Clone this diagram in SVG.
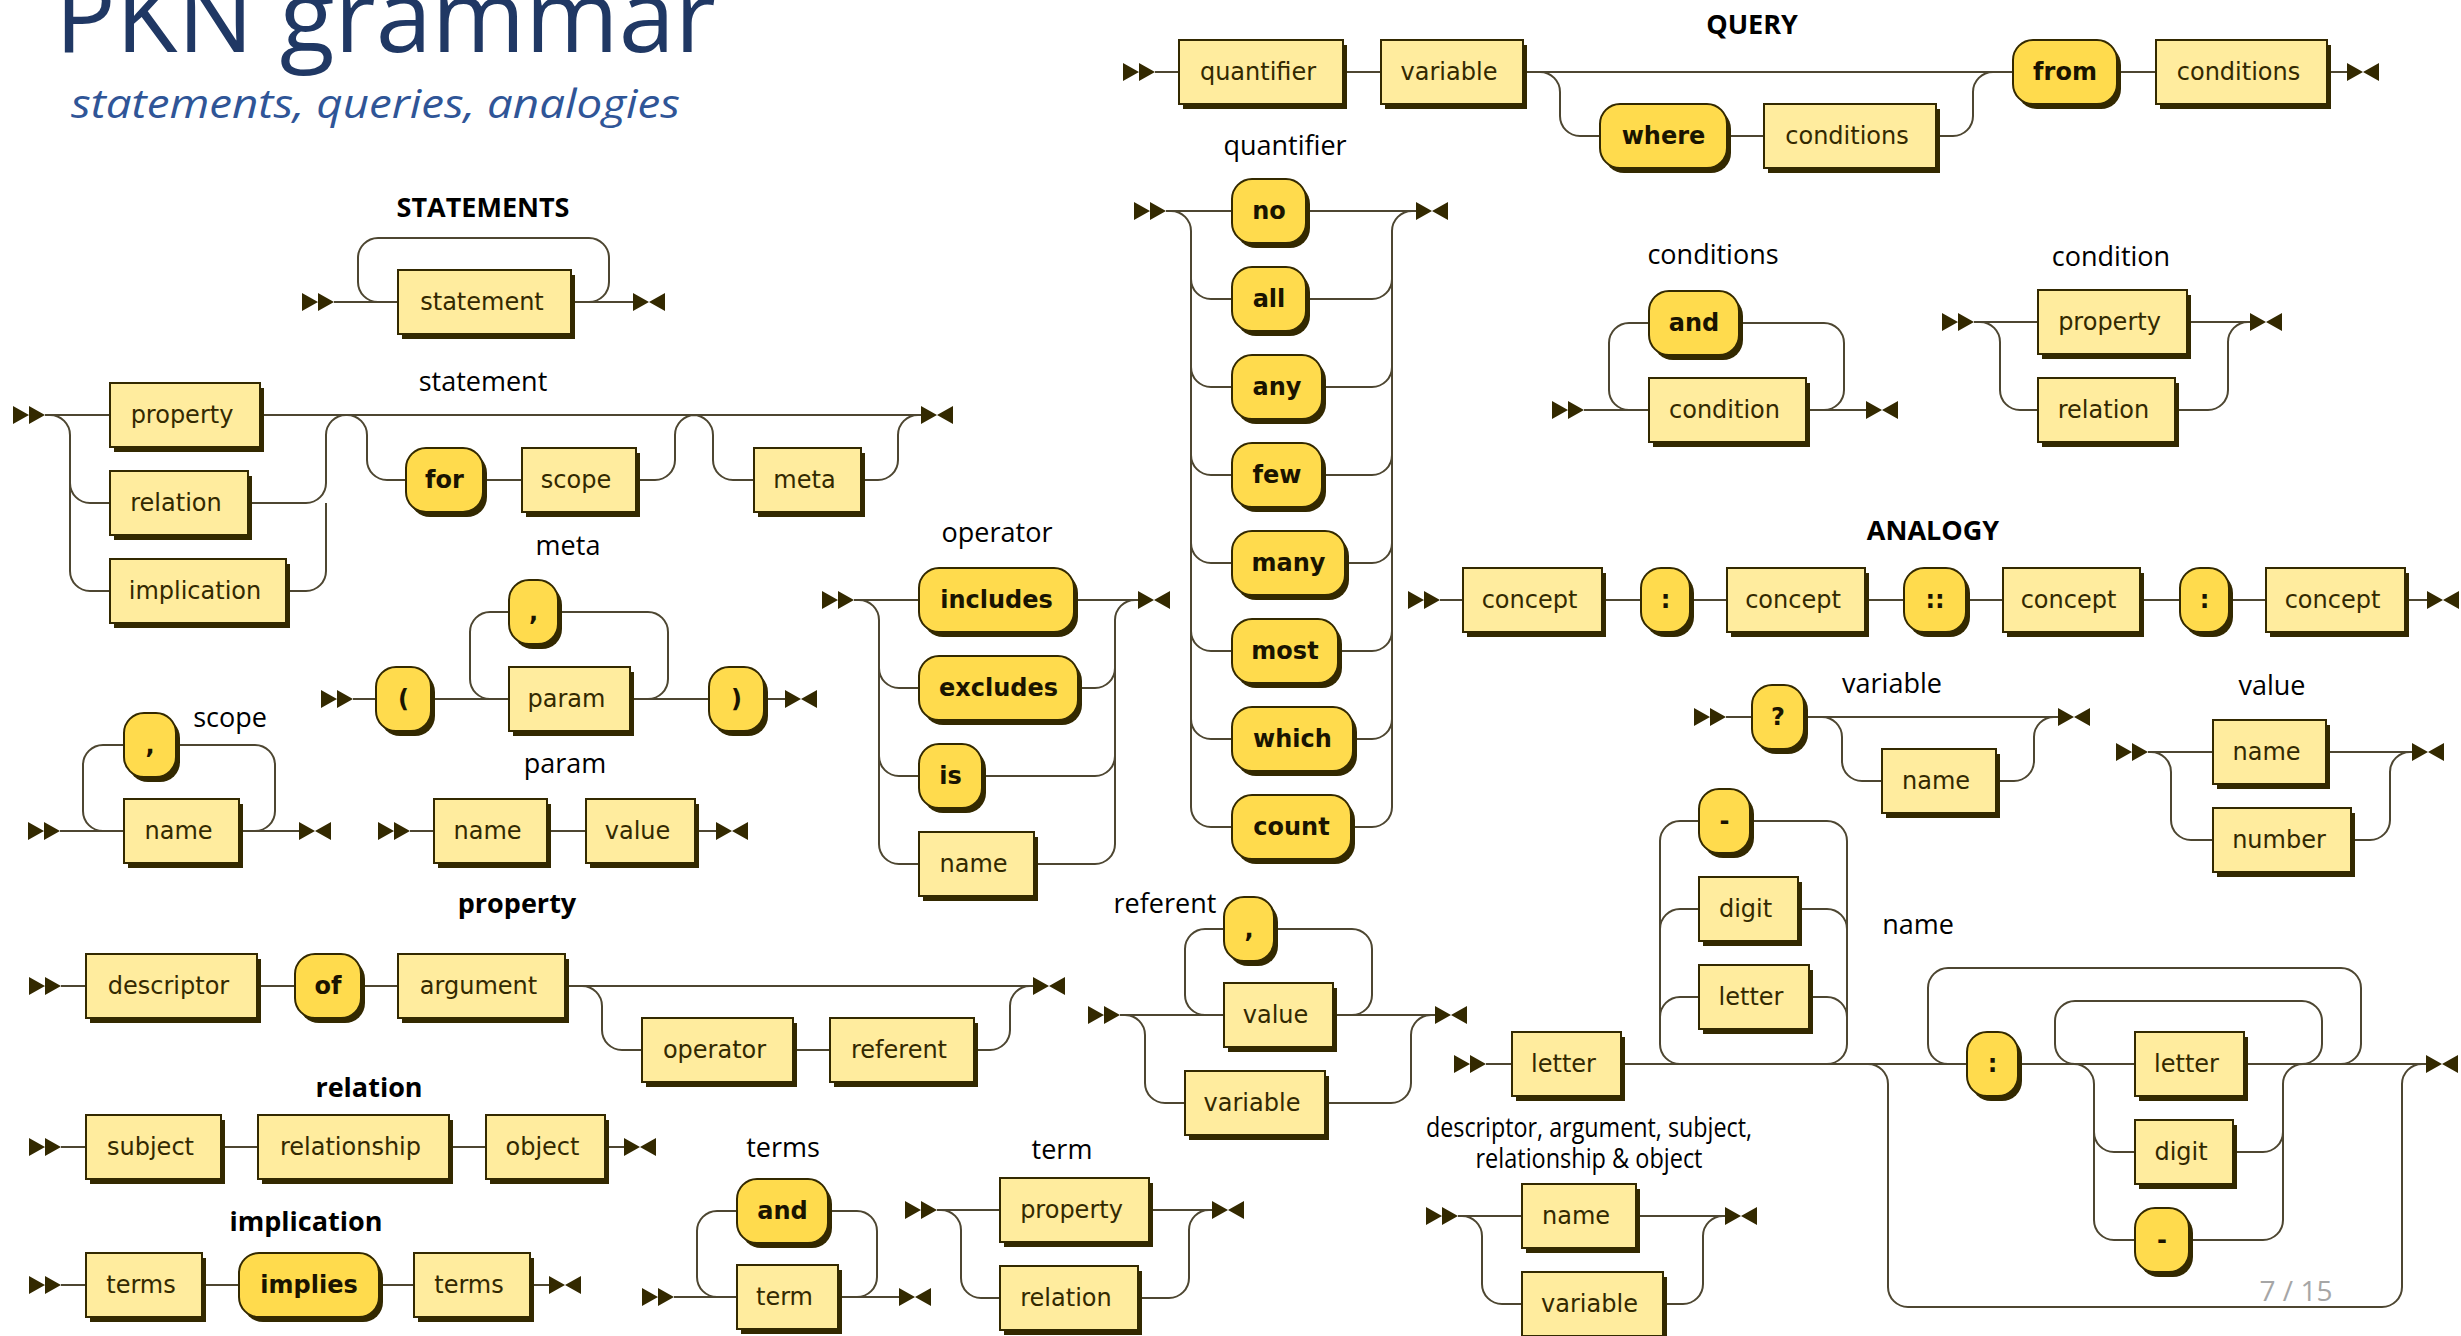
<svg xmlns="http://www.w3.org/2000/svg" xmlns:xlink="http://www.w3.org/1999/xlink" width="2461" height="1336" viewBox="0 0 2461 1336">
<style>
.sh{fill:#332900}
.nt .bx{fill:#FFEC9E;stroke:#332900;stroke-width:2}
.t .bx{fill:#FFDB4D;stroke:#332900;stroke-width:2}
.nt text,.t text{font-family:"DejaVu Sans",Verdana,sans-serif;font-size:24px;fill:#332900;text-anchor:middle}
.t text{font-weight:bold;fill:#1a1400}
.ln path{fill:none;stroke:#4D4631;stroke-width:2}
.ln use{fill:#332900}
.lb{font-family:"Open Sans",sans-serif;font-size:27px;fill:#000;text-anchor:middle}
.bd{font-weight:bold}
</style>
<defs>
<path id="st" d="M0,-9L16,0L0,9ZM16,-9L32,0L16,9Z"/>
<path id="en" d="M0,-9L16,0L0,9ZM32,-9L16,0L32,9Z"/>
</defs>
<rect width="2461" height="1336" fill="#fff"/>
<g id="title">
<text x="55" y="52" font-family="'Open Sans',sans-serif" font-size="101" fill="#203864" textLength="661" lengthAdjust="spacingAndGlyphs">PKN grammar</text>
<text x="71" y="118" font-family="'Open Sans',sans-serif" font-size="41" font-style="italic" fill="#2F5597" textLength="609" lengthAdjust="spacingAndGlyphs">statements, queries, analogies</text>
<text x="2296" y="1301" font-family="'Open Sans',sans-serif" font-size="28" fill="#A6A6A6" text-anchor="middle">7 / 15</text>
</g>
<g id="labels">
<text class="lb bd" x="483" y="217">STATEMENTS</text>
<text class="lb" x="483" y="391">statement</text>
<text class="lb" x="568" y="555">meta</text>
<text class="lb" x="230" y="727">scope</text>
<text class="lb" x="565" y="773">param</text>
<text class="lb bd" x="517" y="913">property</text>
<text class="lb bd" x="369" y="1097">relation</text>
<text class="lb bd" x="306" y="1231">implication</text>
<text class="lb" x="783" y="1157">terms</text>
<text class="lb" x="1062" y="1159">term</text>
<text class="lb" x="997" y="542">operator</text>
<text class="lb" x="1285" y="155">quantifier</text>
<text class="lb bd" x="1752" y="34">QUERY</text>
<text class="lb" x="1713" y="264">conditions</text>
<text class="lb" x="2111" y="266">condition</text>
<text class="lb bd" x="1933" y="540">ANALOGY</text>
<text class="lb" x="1892" y="693">variable</text>
<text class="lb" x="2272" y="695">value</text>
<text class="lb" x="1918" y="934">name</text>
<text class="lb" x="1165" y="913">referent</text>
<text class="lb" x="1589" y="1137" font-size="22" textLength="326" lengthAdjust="spacingAndGlyphs">descriptor, argument, subject,</text>
<text class="lb" x="1589" y="1168" font-size="22" textLength="227" lengthAdjust="spacingAndGlyphs">relationship &amp; object</text>
</g>
<g id="connectors" class="ln">
<path d="M334,302H398M571,302H633M589,302a20,20 0 0 0 20,-20V258a20,20 0 0 0 -20,-20H378a20,20 0 0 0 -20,20V282a20,20 0 0 0 20,20"/>
<use href="#st" x="302" y="302"/><use href="#en" x="633" y="302"/>
<path d="M45,415H110M260,415H921M50,415a20,20 0 0 1 20,20V571a20,20 0 0 0 20,20H110M70,483a20,20 0 0 0 20,20H110M248,503H306a20,20 0 0 0 20,-20V435a20,20 0 0 1 20,-20M286,591H306a20,20 0 0 0 20,-20V503M347,415a20,20 0 0 1 20,20V460a20,20 0 0 0 20,20H406M483,480H522M636,480H655a20,20 0 0 0 20,-20V435a20,20 0 0 1 20,-20M693,415a20,20 0 0 1 20,20V460a20,20 0 0 0 20,20H754M861,480H878a20,20 0 0 0 20,-20V435a20,20 0 0 1 20,-20"/>
<use href="#st" x="13" y="415"/><use href="#en" x="921" y="415"/>
<path d="M353,699H376M431,699H509M630,699H709M764,699H785M648,699a20,20 0 0 0 20,-20V632a20,20 0 0 0 -20,-20H558M509,612H490a20,20 0 0 0 -20,20V679a20,20 0 0 0 20,20"/>
<use href="#st" x="321" y="699"/><use href="#en" x="785" y="699"/>
<path d="M60,831H124M239,831H299M255,831a20,20 0 0 0 20,-20V765a20,20 0 0 0 -20,-20H176M124,745H103a20,20 0 0 0 -20,20V811a20,20 0 0 0 20,20"/>
<use href="#st" x="28" y="831"/><use href="#en" x="299" y="831"/>
<path d="M410,831H434M547,831H586M695,831H716"/>
<use href="#st" x="378" y="831"/><use href="#en" x="716" y="831"/>
<path d="M61,986H86M257,986H295M361,986H398M565,986H1033M582,986a20,20 0 0 1 20,20V1030a20,20 0 0 0 20,20H642M793,1050H830M974,1050H990a20,20 0 0 0 20,-20V1006a20,20 0 0 1 20,-20"/>
<use href="#st" x="29" y="986"/><use href="#en" x="1033" y="986"/>
<path d="M61,1147H86M221,1147H258M449,1147H486M605,1147H624"/>
<use href="#st" x="29" y="1147"/><use href="#en" x="624" y="1147"/>
<path d="M61,1285H86M202,1285H239M379,1285H414M530,1285H549"/>
<use href="#st" x="29" y="1285"/><use href="#en" x="549" y="1285"/>
<path d="M674,1297H737M838,1297H899M857,1297a20,20 0 0 0 20,-20V1231a20,20 0 0 0 -20,-20H828M737,1211H717a20,20 0 0 0 -20,20V1277a20,20 0 0 0 20,20"/>
<use href="#st" x="642" y="1297"/><use href="#en" x="899" y="1297"/>
<path d="M937,1210H1000M1149,1210H1212M941,1210a20,20 0 0 1 20,20V1278a20,20 0 0 0 20,20H1000M1138,1298H1169a20,20 0 0 0 20,-20V1230a20,20 0 0 1 20,-20"/>
<use href="#st" x="905" y="1210"/><use href="#en" x="1212" y="1210"/>
<path d="M854,600H919M1074,600H1138M859,600a20,20 0 0 1 20,20V844a20,20 0 0 0 20,20H919M879,668a20,20 0 0 0 20,20H919M879,756a20,20 0 0 0 20,20H919M1034,864H1095a20,20 0 0 0 20,-20V620a20,20 0 0 1 20,-20M1078,688H1095a20,20 0 0 0 20,-20M982,776H1095a20,20 0 0 0 20,-20"/>
<use href="#st" x="822" y="600"/><use href="#en" x="1138" y="600"/>
<path d="M1166,211H1232M1306,211H1416M1171,211a20,20 0 0 1 20,20V807a20,20 0 0 0 20,20H1232M1191,279a20,20 0 0 0 20,20H1232M1191,367a20,20 0 0 0 20,20H1232M1191,455a20,20 0 0 0 20,20H1232M1191,543a20,20 0 0 0 20,20H1232M1191,631a20,20 0 0 0 20,20H1232M1191,719a20,20 0 0 0 20,20H1232M1351,827H1372a20,20 0 0 0 20,-20V231a20,20 0 0 1 20,-20M1306,299H1372a20,20 0 0 0 20,-20M1322,387H1372a20,20 0 0 0 20,-20M1322,475H1372a20,20 0 0 0 20,-20M1345,563H1372a20,20 0 0 0 20,-20M1338,651H1372a20,20 0 0 0 20,-20M1353,739H1372a20,20 0 0 0 20,-20"/>
<use href="#st" x="1134" y="211"/><use href="#en" x="1416" y="211"/>
<path d="M1155,72H1179M1343,72H1381M1523,72H2013M2117,72H2156M2327,72H2347M1540,72a20,20 0 0 1 20,20V116a20,20 0 0 0 20,20H1600M1727,136H1764M1936,136H1953a20,20 0 0 0 20,-20V92a20,20 0 0 1 20,-20"/>
<use href="#st" x="1123" y="72"/><use href="#en" x="2347" y="72"/>
<path d="M1584,410H1649M1806,410H1866M1824,410a20,20 0 0 0 20,-20V343a20,20 0 0 0 -20,-20H1739M1649,323H1629a20,20 0 0 0 -20,20V390a20,20 0 0 0 20,20"/>
<use href="#st" x="1552" y="410"/><use href="#en" x="1866" y="410"/>
<path d="M1974,322H2038M2187,322H2250M1980,322a20,20 0 0 1 20,20V390a20,20 0 0 0 20,20H2038M2175,410H2208a20,20 0 0 0 20,-20V342a20,20 0 0 1 20,-20"/>
<use href="#st" x="1942" y="322"/><use href="#en" x="2250" y="322"/>
<path d="M1440,600H1463M1602,600H1641M1690,600H1727M1865,600H1904M1966,600H2003M2140,600H2180M2229,600H2266M2405,600H2427"/>
<use href="#st" x="1408" y="600"/><use href="#en" x="2427" y="600"/>
<path d="M1726,717H1752M1804,717H2058M1822,717a20,20 0 0 1 20,20V761a20,20 0 0 0 20,20H1882M1996,781H2014a20,20 0 0 0 20,-20V737a20,20 0 0 1 20,-20"/>
<use href="#st" x="1694" y="717"/><use href="#en" x="2058" y="717"/>
<path d="M2148,752H2213M2326,752H2412M2151,752a20,20 0 0 1 20,20V820a20,20 0 0 0 20,20H2213M2351,840H2370a20,20 0 0 0 20,-20V772a20,20 0 0 1 20,-20"/>
<use href="#st" x="2116" y="752"/><use href="#en" x="2412" y="752"/>
<path d="M1486,1064H1512M1621,1064H1967M2018,1064H2135M2244,1064H2426M1680,1064a20,20 0 0 1 -20,-20V841a20,20 0 0 1 20,-20H1699M1660,1017a20,20 0 0 1 20,-20H1699M1660,929a20,20 0 0 1 20,-20H1699M1827,1064a20,20 0 0 0 20,-20V841a20,20 0 0 0 -20,-20H1750M1809,997H1827a20,20 0 0 1 20,20M1798,909H1827a20,20 0 0 1 20,20M1868,1064a20,20 0 0 1 20,20V1287a20,20 0 0 0 20,20H2382a20,20 0 0 0 20,-20V1084a20,20 0 0 1 20,-20M1948,1064a20,20 0 0 1 -20,-20V988a20,20 0 0 1 20,-20H2341a20,20 0 0 1 20,20V1044a20,20 0 0 1 -20,20M2075,1064a20,20 0 0 1 -20,-20V1021a20,20 0 0 1 20,-20H2302a20,20 0 0 1 20,20V1044a20,20 0 0 1 -20,20M2074,1064a20,20 0 0 1 20,20V1220a20,20 0 0 0 20,20H2135M2094,1132a20,20 0 0 0 20,20H2135M2189,1240H2263a20,20 0 0 0 20,-20V1084a20,20 0 0 1 20,-20M2233,1152H2263a20,20 0 0 0 20,-20"/>
<use href="#st" x="1454" y="1064"/><use href="#en" x="2426" y="1064"/>
<path d="M1458,1216H1522M1636,1216H1725M1462,1216a20,20 0 0 1 20,20V1284a20,20 0 0 0 20,20H1522M1663,1304H1683a20,20 0 0 0 20,-20V1236a20,20 0 0 1 20,-20"/>
<use href="#st" x="1426" y="1216"/><use href="#en" x="1725" y="1216"/>
<path d="M1120,1015H1224M1333,1015H1435M1352,1015a20,20 0 0 0 20,-20V949a20,20 0 0 0 -20,-20H1274M1224,929H1205a20,20 0 0 0 -20,20V995a20,20 0 0 0 20,20M1125,1015a20,20 0 0 1 20,20V1083a20,20 0 0 0 20,20H1185M1325,1103H1391a20,20 0 0 0 20,-20V1035a20,20 0 0 1 20,-20"/>
<use href="#st" x="1088" y="1015"/><use href="#en" x="1435" y="1015"/>
</g>
<g id="nodes">
<g id="stmts-statement" class="nt"><rect class="sh" x="402" y="275" width="173" height="64"/><rect class="bx" x="398" y="270" width="173" height="64"/><text x="482" y="310">statement</text></g>
<g id="stmt-property" class="nt"><rect class="sh" x="114" y="388" width="150" height="64"/><rect class="bx" x="110" y="383" width="150" height="64"/><text x="182" y="423">property</text></g>
<g id="stmt-relation" class="nt"><rect class="sh" x="114" y="476" width="138" height="64"/><rect class="bx" x="110" y="471" width="138" height="64"/><text x="176" y="511">relation</text></g>
<g id="stmt-implication" class="nt"><rect class="sh" x="114" y="564" width="176" height="64"/><rect class="bx" x="110" y="559" width="176" height="64"/><text x="195" y="599">implication</text></g>
<g id="stmt-for" class="t"><rect class="sh" x="410" y="453" width="77" height="64" rx="20"/><rect class="bx" x="406" y="448" width="77" height="64" rx="20"/><text x="444.5" y="488">for</text></g>
<g id="stmt-scope" class="nt"><rect class="sh" x="526" y="453" width="114" height="64"/><rect class="bx" x="522" y="448" width="114" height="64"/><text x="576" y="488">scope</text></g>
<g id="stmt-meta" class="nt"><rect class="sh" x="758" y="453" width="107" height="64"/><rect class="bx" x="754" y="448" width="107" height="64"/><text x="804.5" y="488">meta</text></g>
<g id="meta-lparen" class="t"><rect class="sh" x="380" y="672" width="55" height="64" rx="20"/><rect class="bx" x="376" y="667" width="55" height="64" rx="20"/><text x="403.5" y="707">(</text></g>
<g id="meta-comma" class="t"><rect class="sh" x="513" y="585" width="49" height="64" rx="20"/><rect class="bx" x="509" y="580" width="49" height="64" rx="20"/><text x="533.5" y="620">,</text></g>
<g id="meta-param" class="nt"><rect class="sh" x="513" y="672" width="121" height="64"/><rect class="bx" x="509" y="667" width="121" height="64"/><text x="566.5" y="707">param</text></g>
<g id="meta-rparen" class="t"><rect class="sh" x="713" y="672" width="55" height="64" rx="20"/><rect class="bx" x="709" y="667" width="55" height="64" rx="20"/><text x="736.5" y="707">)</text></g>
<g id="scope-comma" class="t"><rect class="sh" x="128" y="718" width="52" height="64" rx="20"/><rect class="bx" x="124" y="713" width="52" height="64" rx="20"/><text x="150" y="753">,</text></g>
<g id="scope-name" class="nt"><rect class="sh" x="128" y="804" width="115" height="64"/><rect class="bx" x="124" y="799" width="115" height="64"/><text x="178.5" y="839">name</text></g>
<g id="param-name" class="nt"><rect class="sh" x="438" y="804" width="113" height="64"/><rect class="bx" x="434" y="799" width="113" height="64"/><text x="487.5" y="839">name</text></g>
<g id="param-value" class="nt"><rect class="sh" x="590" y="804" width="109" height="64"/><rect class="bx" x="586" y="799" width="109" height="64"/><text x="637.5" y="839">value</text></g>
<g id="prop-descriptor" class="nt"><rect class="sh" x="90" y="959" width="171" height="64"/><rect class="bx" x="86" y="954" width="171" height="64"/><text x="168.5" y="994">descriptor</text></g>
<g id="prop-of" class="t"><rect class="sh" x="299" y="959" width="66" height="64" rx="20"/><rect class="bx" x="295" y="954" width="66" height="64" rx="20"/><text x="328" y="994">of</text></g>
<g id="prop-argument" class="nt"><rect class="sh" x="402" y="959" width="167" height="64"/><rect class="bx" x="398" y="954" width="167" height="64"/><text x="478.5" y="994">argument</text></g>
<g id="prop-operator" class="nt"><rect class="sh" x="646" y="1023" width="151" height="64"/><rect class="bx" x="642" y="1018" width="151" height="64"/><text x="714.5" y="1058">operator</text></g>
<g id="prop-referent" class="nt"><rect class="sh" x="834" y="1023" width="144" height="64"/><rect class="bx" x="830" y="1018" width="144" height="64"/><text x="899" y="1058">referent</text></g>
<g id="rel-subject" class="nt"><rect class="sh" x="90" y="1120" width="135" height="64"/><rect class="bx" x="86" y="1115" width="135" height="64"/><text x="150.5" y="1155">subject</text></g>
<g id="rel-relationship" class="nt"><rect class="sh" x="262" y="1120" width="191" height="64"/><rect class="bx" x="258" y="1115" width="191" height="64"/><text x="350.5" y="1155">relationship</text></g>
<g id="rel-object" class="nt"><rect class="sh" x="490" y="1120" width="119" height="64"/><rect class="bx" x="486" y="1115" width="119" height="64"/><text x="542.5" y="1155">object</text></g>
<g id="imp-terms1" class="nt"><rect class="sh" x="90" y="1258" width="116" height="64"/><rect class="bx" x="86" y="1253" width="116" height="64"/><text x="141" y="1293">terms</text></g>
<g id="imp-implies" class="t"><rect class="sh" x="243" y="1258" width="140" height="64" rx="20"/><rect class="bx" x="239" y="1253" width="140" height="64" rx="20"/><text x="309" y="1293">implies</text></g>
<g id="imp-terms2" class="nt"><rect class="sh" x="418" y="1258" width="116" height="64"/><rect class="bx" x="414" y="1253" width="116" height="64"/><text x="469" y="1293">terms</text></g>
<g id="terms-and" class="t"><rect class="sh" x="741" y="1184" width="91" height="64" rx="20"/><rect class="bx" x="737" y="1179" width="91" height="64" rx="20"/><text x="782.5" y="1219">and</text></g>
<g id="terms-term" class="nt"><rect class="sh" x="741" y="1270" width="101" height="64"/><rect class="bx" x="737" y="1265" width="101" height="64"/><text x="784.5" y="1305">term</text></g>
<g id="term-property" class="nt"><rect class="sh" x="1004" y="1183" width="149" height="64"/><rect class="bx" x="1000" y="1178" width="149" height="64"/><text x="1071.5" y="1218">property</text></g>
<g id="term-relation" class="nt"><rect class="sh" x="1004" y="1271" width="138" height="64"/><rect class="bx" x="1000" y="1266" width="138" height="64"/><text x="1066" y="1306">relation</text></g>
<g id="op-includes" class="t"><rect class="sh" x="923" y="573" width="155" height="64" rx="20"/><rect class="bx" x="919" y="568" width="155" height="64" rx="20"/><text x="996.5" y="608">includes</text></g>
<g id="op-excludes" class="t"><rect class="sh" x="923" y="661" width="159" height="64" rx="20"/><rect class="bx" x="919" y="656" width="159" height="64" rx="20"/><text x="998.5" y="696">excludes</text></g>
<g id="op-is" class="t"><rect class="sh" x="923" y="749" width="63" height="64" rx="20"/><rect class="bx" x="919" y="744" width="63" height="64" rx="20"/><text x="950.5" y="784">is</text></g>
<g id="op-name" class="nt"><rect class="sh" x="923" y="837" width="115" height="64"/><rect class="bx" x="919" y="832" width="115" height="64"/><text x="973.5" y="872">name</text></g>
<g id="qf-no" class="t"><rect class="sh" x="1236" y="184" width="74" height="64" rx="20"/><rect class="bx" x="1232" y="179" width="74" height="64" rx="20"/><text x="1269" y="219">no</text></g>
<g id="qf-all" class="t"><rect class="sh" x="1236" y="272" width="74" height="64" rx="20"/><rect class="bx" x="1232" y="267" width="74" height="64" rx="20"/><text x="1269" y="307">all</text></g>
<g id="qf-any" class="t"><rect class="sh" x="1236" y="360" width="90" height="64" rx="20"/><rect class="bx" x="1232" y="355" width="90" height="64" rx="20"/><text x="1277" y="395">any</text></g>
<g id="qf-few" class="t"><rect class="sh" x="1236" y="448" width="90" height="64" rx="20"/><rect class="bx" x="1232" y="443" width="90" height="64" rx="20"/><text x="1277" y="483">few</text></g>
<g id="qf-many" class="t"><rect class="sh" x="1236" y="536" width="113" height="64" rx="20"/><rect class="bx" x="1232" y="531" width="113" height="64" rx="20"/><text x="1288.5" y="571">many</text></g>
<g id="qf-most" class="t"><rect class="sh" x="1236" y="624" width="106" height="64" rx="20"/><rect class="bx" x="1232" y="619" width="106" height="64" rx="20"/><text x="1285" y="659">most</text></g>
<g id="qf-which" class="t"><rect class="sh" x="1236" y="712" width="121" height="64" rx="20"/><rect class="bx" x="1232" y="707" width="121" height="64" rx="20"/><text x="1292.5" y="747">which</text></g>
<g id="qf-count" class="t"><rect class="sh" x="1236" y="800" width="119" height="64" rx="20"/><rect class="bx" x="1232" y="795" width="119" height="64" rx="20"/><text x="1291.5" y="835">count</text></g>
<g id="query-quantifier" class="nt"><rect class="sh" x="1183" y="45" width="164" height="64"/><rect class="bx" x="1179" y="40" width="164" height="64"/><text x="1258" y="80">quantifier</text></g>
<g id="query-variable" class="nt"><rect class="sh" x="1385" y="45" width="142" height="64"/><rect class="bx" x="1381" y="40" width="142" height="64"/><text x="1449" y="80">variable</text></g>
<g id="query-where" class="t"><rect class="sh" x="1604" y="109" width="127" height="64" rx="20"/><rect class="bx" x="1600" y="104" width="127" height="64" rx="20"/><text x="1663.5" y="144">where</text></g>
<g id="query-conditions1" class="nt"><rect class="sh" x="1768" y="109" width="172" height="64"/><rect class="bx" x="1764" y="104" width="172" height="64"/><text x="1847" y="144">conditions</text></g>
<g id="query-from" class="t"><rect class="sh" x="2017" y="45" width="104" height="64" rx="20"/><rect class="bx" x="2013" y="40" width="104" height="64" rx="20"/><text x="2065" y="80">from</text></g>
<g id="query-conditions2" class="nt"><rect class="sh" x="2160" y="45" width="171" height="64"/><rect class="bx" x="2156" y="40" width="171" height="64"/><text x="2238.5" y="80">conditions</text></g>
<g id="conds-and" class="t"><rect class="sh" x="1653" y="296" width="90" height="64" rx="20"/><rect class="bx" x="1649" y="291" width="90" height="64" rx="20"/><text x="1694" y="331">and</text></g>
<g id="conds-condition" class="nt"><rect class="sh" x="1653" y="383" width="157" height="64"/><rect class="bx" x="1649" y="378" width="157" height="64"/><text x="1724.5" y="418">condition</text></g>
<g id="cond-property" class="nt"><rect class="sh" x="2042" y="295" width="149" height="64"/><rect class="bx" x="2038" y="290" width="149" height="64"/><text x="2109.5" y="330">property</text></g>
<g id="cond-relation" class="nt"><rect class="sh" x="2042" y="383" width="137" height="64"/><rect class="bx" x="2038" y="378" width="137" height="64"/><text x="2103.5" y="418">relation</text></g>
<g id="an-concept1" class="nt"><rect class="sh" x="1467" y="573" width="139" height="64"/><rect class="bx" x="1463" y="568" width="139" height="64"/><text x="1529.5" y="608">concept</text></g>
<g id="an-colon1" class="t"><rect class="sh" x="1645" y="573" width="49" height="64" rx="20"/><rect class="bx" x="1641" y="568" width="49" height="64" rx="20"/><text x="1665.5" y="608">:</text></g>
<g id="an-concept2" class="nt"><rect class="sh" x="1731" y="573" width="138" height="64"/><rect class="bx" x="1727" y="568" width="138" height="64"/><text x="1793" y="608">concept</text></g>
<g id="an-dcolon" class="t"><rect class="sh" x="1908" y="573" width="62" height="64" rx="20"/><rect class="bx" x="1904" y="568" width="62" height="64" rx="20"/><text x="1935" y="608">::</text></g>
<g id="an-concept3" class="nt"><rect class="sh" x="2007" y="573" width="137" height="64"/><rect class="bx" x="2003" y="568" width="137" height="64"/><text x="2068.5" y="608">concept</text></g>
<g id="an-colon2" class="t"><rect class="sh" x="2184" y="573" width="49" height="64" rx="20"/><rect class="bx" x="2180" y="568" width="49" height="64" rx="20"/><text x="2204.5" y="608">:</text></g>
<g id="an-concept4" class="nt"><rect class="sh" x="2270" y="573" width="139" height="64"/><rect class="bx" x="2266" y="568" width="139" height="64"/><text x="2332.5" y="608">concept</text></g>
<g id="var-q" class="t"><rect class="sh" x="1756" y="690" width="52" height="64" rx="20"/><rect class="bx" x="1752" y="685" width="52" height="64" rx="20"/><text x="1778" y="725">?</text></g>
<g id="var-name" class="nt"><rect class="sh" x="1886" y="754" width="114" height="64"/><rect class="bx" x="1882" y="749" width="114" height="64"/><text x="1936" y="789">name</text></g>
<g id="val-name" class="nt"><rect class="sh" x="2217" y="725" width="113" height="64"/><rect class="bx" x="2213" y="720" width="113" height="64"/><text x="2266.5" y="760">name</text></g>
<g id="val-number" class="nt"><rect class="sh" x="2217" y="813" width="138" height="64"/><rect class="bx" x="2213" y="808" width="138" height="64"/><text x="2279" y="848">number</text></g>
<g id="name-letter1" class="nt"><rect class="sh" x="1516" y="1037" width="109" height="64"/><rect class="bx" x="1512" y="1032" width="109" height="64"/><text x="1563.5" y="1072">letter</text></g>
<g id="name-dash1" class="t"><rect class="sh" x="1703" y="794" width="51" height="64" rx="20"/><rect class="bx" x="1699" y="789" width="51" height="64" rx="20"/><text x="1724.5" y="829">-</text></g>
<g id="name-digit1" class="nt"><rect class="sh" x="1703" y="882" width="99" height="64"/><rect class="bx" x="1699" y="877" width="99" height="64"/><text x="1745.5" y="917">digit</text></g>
<g id="name-letter2" class="nt"><rect class="sh" x="1703" y="970" width="110" height="64"/><rect class="bx" x="1699" y="965" width="110" height="64"/><text x="1751" y="1005">letter</text></g>
<g id="name-colon" class="t"><rect class="sh" x="1971" y="1037" width="51" height="64" rx="20"/><rect class="bx" x="1967" y="1032" width="51" height="64" rx="20"/><text x="1992.5" y="1072">:</text></g>
<g id="name-letter3" class="nt"><rect class="sh" x="2139" y="1037" width="109" height="64"/><rect class="bx" x="2135" y="1032" width="109" height="64"/><text x="2186.5" y="1072">letter</text></g>
<g id="name-digit2" class="nt"><rect class="sh" x="2139" y="1125" width="98" height="64"/><rect class="bx" x="2135" y="1120" width="98" height="64"/><text x="2181" y="1160">digit</text></g>
<g id="name-dash2" class="t"><rect class="sh" x="2139" y="1213" width="54" height="64" rx="20"/><rect class="bx" x="2135" y="1208" width="54" height="64" rx="20"/><text x="2162" y="1248">-</text></g>
<g id="desc-name" class="nt"><rect class="sh" x="1526" y="1189" width="114" height="64"/><rect class="bx" x="1522" y="1184" width="114" height="64"/><text x="1576" y="1224">name</text></g>
<g id="desc-variable" class="nt"><rect class="sh" x="1526" y="1277" width="141" height="64"/><rect class="bx" x="1522" y="1272" width="141" height="64"/><text x="1589.5" y="1312">variable</text></g>
<g id="ref-comma" class="t"><rect class="sh" x="1228" y="902" width="50" height="64" rx="20"/><rect class="bx" x="1224" y="897" width="50" height="64" rx="20"/><text x="1249" y="937">,</text></g>
<g id="ref-value" class="nt"><rect class="sh" x="1228" y="988" width="109" height="64"/><rect class="bx" x="1224" y="983" width="109" height="64"/><text x="1275.5" y="1023">value</text></g>
<g id="ref-variable" class="nt"><rect class="sh" x="1189" y="1076" width="140" height="64"/><rect class="bx" x="1185" y="1071" width="140" height="64"/><text x="1252" y="1111">variable</text></g>
</g>
</svg>
